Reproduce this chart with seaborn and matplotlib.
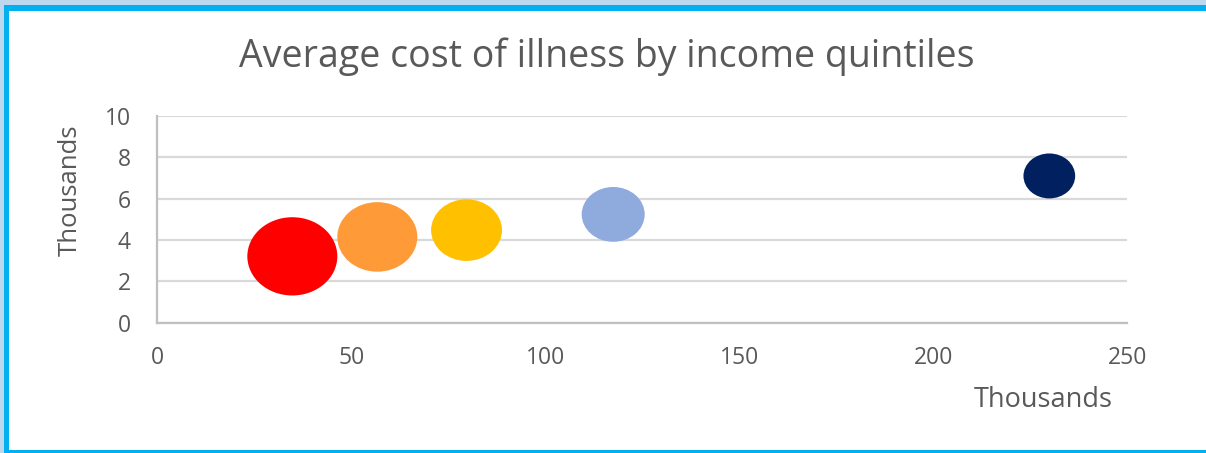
import numpy as np
import pandas as pd
import matplotlib
matplotlib.use("Agg")
import matplotlib.pyplot as plt
from matplotlib.path import Path
from matplotlib.patches import Rectangle
import seaborn as sns

# Income quintiles: average income (thousands), average cost of illness (thousands)
quintiles = ["Q1", "Q2", "Q3", "Q4", "Q5"]
income = [34.8, 56.7, 79.7, 117.5, 229.9]
cost = [3.21, 4.15, 4.48, 5.24, 7.10]
bubble_size = [100, 79, 62, 49, 33]
colors = ["#FF0000", "#FF9A38", "#FFC000", "#8FAADC", "#002060"]

x_ticks = [0, 50, 100, 150, 200, 250]
y_ticks = [0, 2, 4, 6, 8, 10]

df = pd.DataFrame({"quintile": quintiles, "income": income,
                   "cost": cost, "size": bubble_size})

sns.set_theme(style="white")
plt.rcParams["font.family"] = ["Open Sans", "DejaVu Sans"]
text_color = "#595959"

W, H = 1206, 453
fig = plt.figure(figsize=(W / 100, H / 100), dpi=100)
ax = fig.add_axes([157.3 / W, 1 - 322.7 / H, 970 / W, 206.7 / H])

# slightly wide elliptical bubble marker
circle = Path.unit_circle()
ellipse = Path(circle.vertices * np.array([1.15, 1.0]), circle.codes)

max_area = (90 * 0.72) ** 2
sns.scatterplot(data=df, x="income", y="cost", hue="quintile", palette=colors,
                size="size", sizes=(0, max_area), size_norm=(0, max(bubble_size)),
                marker=ellipse, linewidth=0, alpha=1, legend=False, ax=ax,
                zorder=3)

ax.set_xlim(x_ticks[0], x_ticks[-1])
ax.set_ylim(y_ticks[0], y_ticks[-1])
ax.set_xticks(x_ticks)
ax.set_yticks(y_ticks)
ax.set_xlabel("")
ax.set_ylabel("")
ax.tick_params(axis="both", length=0, labelsize=16.5, colors=text_color)
ax.tick_params(axis="x", pad=17)
ax.tick_params(axis="y", pad=19)

ax.grid(axis="y", color="#D9D9D9", linewidth=1.6, zorder=0)
ax.grid(axis="x", visible=False)
for side in ["top", "right"]:
    ax.spines[side].set_visible(False)
for side in ["left", "bottom"]:
    ax.spines[side].set_color("#BFBFBF")
    ax.spines[side].set_linewidth(1.6)

fig.text(607 / W, 1 - 57 / H, "Average cost of illness by income quintiles",
         ha="center", va="center", fontsize=27, color=text_color)
fig.text(1043.7 / W, 1 - 400 / H, "Thousands", ha="center", va="center",
         fontsize=19.5, color=text_color)
fig.text(70 / W, 1 - 190.5 / H, "Thousands", ha="center", va="center",
         rotation=90, fontsize=18.5, color=text_color)

# frame around the chart area
def band(x0, y0, w, h, color):
    fig.patches.append(Rectangle((x0 / W, 1 - (y0 + h) / H), w / W, h / H,
                                 transform=fig.transFigure, facecolor=color,
                                 edgecolor="none", zorder=10))

light, cyan = "#BDD7EE", "#00B0F0"
band(0, 0, W, 5, light)
band(0, 0, 4, H, light)
band(4, 5, W - 4, 6, cyan)
band(4, 5, 5, H - 5, cyan)
band(4, 450, W - 4, 3, cyan)

fig.savefig("out.png", dpi=100)
